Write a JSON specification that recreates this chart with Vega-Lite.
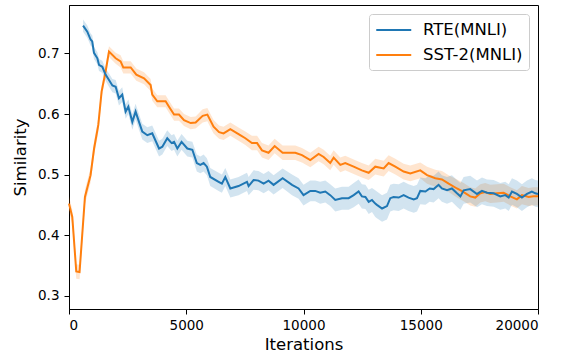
{
  "$schema": "https://vega.github.io/schema/vega-lite/v6.json",
  "width": 469,
  "height": 304,
  "autosize": {"type": "none"},
  "padding": {"left": 69, "top": 5, "right": 28, "bottom": 47},
  "background": "white",
  "config": {
    "font": "DejaVu Sans",
    "view": {"stroke": "#000000", "strokeWidth": 1},
    "axis": {
      "grid": false,
      "domainColor": "#000000",
      "tickColor": "#000000",
      "labelColor": "#000000",
      "titleColor": "#000000",
      "labelFont": "DejaVu Sans",
      "titleFont": "DejaVu Sans",
      "labelFontSize": 13.5,
      "titleFontSize": 16.5,
      "titleFontWeight": "normal",
      "tickSize": 5,
      "labelPadding": 4
    },
    "legend": {
      "orient": "top-right",
      "offset": 9,
      "symbolType": "M-1,0H3",
      "symbolSize": 306,
      "symbolStrokeWidth": 2,
      "labelFontSize": 16.5,
      "labelFont": "DejaVu Sans",
      "labelColor": "#000000",
      "labelOffset": 28,
      "rowPadding": 6,
      "padding": 6,
      "strokeColor": "#cccccc",
      "fillColor": "#ffffff",
      "cornerRadius": 3
    }
  },
  "data": {"values": [
    {"s":"SST-2(MNLI)","x":0,"y":0.452,"lo":0.440,"hi":0.464},
    {"s":"SST-2(MNLI)","x":140,"y":0.430,"lo":0.418,"hi":0.442},
    {"s":"SST-2(MNLI)","x":310,"y":0.340,"lo":0.328,"hi":0.352},
    {"s":"SST-2(MNLI)","x":450,"y":0.339,"lo":0.327,"hi":0.351},
    {"s":"SST-2(MNLI)","x":680,"y":0.463,"lo":0.451,"hi":0.475},
    {"s":"SST-2(MNLI)","x":920,"y":0.499,"lo":0.487,"hi":0.511},
    {"s":"SST-2(MNLI)","x":1070,"y":0.543,"lo":0.531,"hi":0.555},
    {"s":"SST-2(MNLI)","x":1250,"y":0.582,"lo":0.570,"hi":0.594},
    {"s":"SST-2(MNLI)","x":1390,"y":0.637,"lo":0.627,"hi":0.647},
    {"s":"SST-2(MNLI)","x":1560,"y":0.670,"lo":0.660,"hi":0.680},
    {"s":"SST-2(MNLI)","x":1705,"y":0.703,"lo":0.694,"hi":0.712},
    {"s":"SST-2(MNLI)","x":1990,"y":0.692,"lo":0.683,"hi":0.701},
    {"s":"SST-2(MNLI)","x":2200,"y":0.687,"lo":0.677,"hi":0.697},
    {"s":"SST-2(MNLI)","x":2315,"y":0.677,"lo":0.667,"hi":0.687},
    {"s":"SST-2(MNLI)","x":2630,"y":0.677,"lo":0.667,"hi":0.687},
    {"s":"SST-2(MNLI)","x":2870,"y":0.665,"lo":0.655,"hi":0.675},
    {"s":"SST-2(MNLI)","x":3200,"y":0.659,"lo":0.649,"hi":0.669},
    {"s":"SST-2(MNLI)","x":3480,"y":0.648,"lo":0.638,"hi":0.658},
    {"s":"SST-2(MNLI)","x":3550,"y":0.632,"lo":0.622,"hi":0.642},
    {"s":"SST-2(MNLI)","x":3765,"y":0.621,"lo":0.611,"hi":0.631},
    {"s":"SST-2(MNLI)","x":4120,"y":0.621,"lo":0.611,"hi":0.631},
    {"s":"SST-2(MNLI)","x":4265,"y":0.612,"lo":0.602,"hi":0.622},
    {"s":"SST-2(MNLI)","x":4480,"y":0.599,"lo":0.589,"hi":0.609},
    {"s":"SST-2(MNLI)","x":4690,"y":0.599,"lo":0.589,"hi":0.609},
    {"s":"SST-2(MNLI)","x":4905,"y":0.590,"lo":0.580,"hi":0.600},
    {"s":"SST-2(MNLI)","x":5190,"y":0.585,"lo":0.575,"hi":0.595},
    {"s":"SST-2(MNLI)","x":5400,"y":0.586,"lo":0.576,"hi":0.596},
    {"s":"SST-2(MNLI)","x":5700,"y":0.597,"lo":0.586,"hi":0.608},
    {"s":"SST-2(MNLI)","x":5900,"y":0.599,"lo":0.588,"hi":0.610},
    {"s":"SST-2(MNLI)","x":6165,"y":0.579,"lo":0.568,"hi":0.590},
    {"s":"SST-2(MNLI)","x":6400,"y":0.570,"lo":0.559,"hi":0.581},
    {"s":"SST-2(MNLI)","x":6590,"y":0.568,"lo":0.557,"hi":0.579},
    {"s":"SST-2(MNLI)","x":6880,"y":0.575,"lo":0.564,"hi":0.586},
    {"s":"SST-2(MNLI)","x":7300,"y":0.565,"lo":0.554,"hi":0.576},
    {"s":"SST-2(MNLI)","x":7520,"y":0.560,"lo":0.549,"hi":0.571},
    {"s":"SST-2(MNLI)","x":7800,"y":0.552,"lo":0.540,"hi":0.564},
    {"s":"SST-2(MNLI)","x":8020,"y":0.552,"lo":0.540,"hi":0.564},
    {"s":"SST-2(MNLI)","x":8230,"y":0.540,"lo":0.528,"hi":0.552},
    {"s":"SST-2(MNLI)","x":8510,"y":0.536,"lo":0.524,"hi":0.548},
    {"s":"SST-2(MNLI)","x":8770,"y":0.547,"lo":0.535,"hi":0.559},
    {"s":"SST-2(MNLI)","x":9110,"y":0.536,"lo":0.524,"hi":0.548},
    {"s":"SST-2(MNLI)","x":9650,"y":0.536,"lo":0.524,"hi":0.548},
    {"s":"SST-2(MNLI)","x":9935,"y":0.532,"lo":0.520,"hi":0.544},
    {"s":"SST-2(MNLI)","x":10290,"y":0.524,"lo":0.512,"hi":0.536},
    {"s":"SST-2(MNLI)","x":10645,"y":0.534,"lo":0.522,"hi":0.546},
    {"s":"SST-2(MNLI)","x":10860,"y":0.529,"lo":0.517,"hi":0.541},
    {"s":"SST-2(MNLI)","x":11140,"y":0.519,"lo":0.507,"hi":0.531},
    {"s":"SST-2(MNLI)","x":11285,"y":0.528,"lo":0.516,"hi":0.540},
    {"s":"SST-2(MNLI)","x":11570,"y":0.516,"lo":0.504,"hi":0.528},
    {"s":"SST-2(MNLI)","x":11780,"y":0.519,"lo":0.507,"hi":0.531},
    {"s":"SST-2(MNLI)","x":12140,"y":0.513,"lo":0.501,"hi":0.525},
    {"s":"SST-2(MNLI)","x":12490,"y":0.507,"lo":0.495,"hi":0.519},
    {"s":"SST-2(MNLI)","x":12780,"y":0.503,"lo":0.491,"hi":0.515},
    {"s":"SST-2(MNLI)","x":13060,"y":0.513,"lo":0.500,"hi":0.526},
    {"s":"SST-2(MNLI)","x":13420,"y":0.510,"lo":0.497,"hi":0.523},
    {"s":"SST-2(MNLI)","x":13630,"y":0.519,"lo":0.506,"hi":0.532},
    {"s":"SST-2(MNLI)","x":13915,"y":0.513,"lo":0.500,"hi":0.526},
    {"s":"SST-2(MNLI)","x":14270,"y":0.505,"lo":0.492,"hi":0.518},
    {"s":"SST-2(MNLI)","x":14555,"y":0.502,"lo":0.489,"hi":0.515},
    {"s":"SST-2(MNLI)","x":14980,"y":0.507,"lo":0.494,"hi":0.520},
    {"s":"SST-2(MNLI)","x":15270,"y":0.499,"lo":0.485,"hi":0.513},
    {"s":"SST-2(MNLI)","x":15620,"y":0.494,"lo":0.480,"hi":0.508},
    {"s":"SST-2(MNLI)","x":15905,"y":0.492,"lo":0.478,"hi":0.506},
    {"s":"SST-2(MNLI)","x":16190,"y":0.485,"lo":0.471,"hi":0.499},
    {"s":"SST-2(MNLI)","x":16545,"y":0.477,"lo":0.462,"hi":0.492},
    {"s":"SST-2(MNLI)","x":16830,"y":0.471,"lo":0.456,"hi":0.486},
    {"s":"SST-2(MNLI)","x":17110,"y":0.464,"lo":0.449,"hi":0.479},
    {"s":"SST-2(MNLI)","x":17325,"y":0.462,"lo":0.447,"hi":0.477},
    {"s":"SST-2(MNLI)","x":17540,"y":0.469,"lo":0.454,"hi":0.484},
    {"s":"SST-2(MNLI)","x":17750,"y":0.471,"lo":0.456,"hi":0.486},
    {"s":"SST-2(MNLI)","x":17965,"y":0.468,"lo":0.453,"hi":0.483},
    {"s":"SST-2(MNLI)","x":18250,"y":0.469,"lo":0.454,"hi":0.484},
    {"s":"SST-2(MNLI)","x":18535,"y":0.470,"lo":0.455,"hi":0.485},
    {"s":"SST-2(MNLI)","x":18820,"y":0.464,"lo":0.449,"hi":0.479},
    {"s":"SST-2(MNLI)","x":19100,"y":0.459,"lo":0.444,"hi":0.474},
    {"s":"SST-2(MNLI)","x":19315,"y":0.466,"lo":0.451,"hi":0.481},
    {"s":"SST-2(MNLI)","x":19600,"y":0.463,"lo":0.448,"hi":0.478},
    {"s":"SST-2(MNLI)","x":19810,"y":0.464,"lo":0.449,"hi":0.479},
    {"s":"SST-2(MNLI)","x":20000,"y":0.464,"lo":0.449,"hi":0.479},
    {"s":"RTE(MNLI)","x":600,"y":0.746,"lo":0.736,"hi":0.756},
    {"s":"RTE(MNLI)","x":780,"y":0.736,"lo":0.726,"hi":0.746},
    {"s":"RTE(MNLI)","x":920,"y":0.723,"lo":0.713,"hi":0.733},
    {"s":"RTE(MNLI)","x":990,"y":0.720,"lo":0.710,"hi":0.730},
    {"s":"RTE(MNLI)","x":1065,"y":0.701,"lo":0.691,"hi":0.711},
    {"s":"RTE(MNLI)","x":1210,"y":0.692,"lo":0.682,"hi":0.702},
    {"s":"RTE(MNLI)","x":1280,"y":0.681,"lo":0.671,"hi":0.691},
    {"s":"RTE(MNLI)","x":1420,"y":0.678,"lo":0.668,"hi":0.688},
    {"s":"RTE(MNLI)","x":1560,"y":0.665,"lo":0.655,"hi":0.675},
    {"s":"RTE(MNLI)","x":1705,"y":0.656,"lo":0.645,"hi":0.667},
    {"s":"RTE(MNLI)","x":1850,"y":0.647,"lo":0.636,"hi":0.658},
    {"s":"RTE(MNLI)","x":1990,"y":0.645,"lo":0.634,"hi":0.656},
    {"s":"RTE(MNLI)","x":2130,"y":0.626,"lo":0.614,"hi":0.638},
    {"s":"RTE(MNLI)","x":2270,"y":0.632,"lo":0.620,"hi":0.644},
    {"s":"RTE(MNLI)","x":2415,"y":0.604,"lo":0.592,"hi":0.616},
    {"s":"RTE(MNLI)","x":2530,"y":0.612,"lo":0.600,"hi":0.624},
    {"s":"RTE(MNLI)","x":2700,"y":0.587,"lo":0.574,"hi":0.600},
    {"s":"RTE(MNLI)","x":2840,"y":0.604,"lo":0.591,"hi":0.617},
    {"s":"RTE(MNLI)","x":2985,"y":0.587,"lo":0.574,"hi":0.600},
    {"s":"RTE(MNLI)","x":3125,"y":0.571,"lo":0.558,"hi":0.584},
    {"s":"RTE(MNLI)","x":3340,"y":0.565,"lo":0.552,"hi":0.578},
    {"s":"RTE(MNLI)","x":3550,"y":0.568,"lo":0.555,"hi":0.581},
    {"s":"RTE(MNLI)","x":3840,"y":0.543,"lo":0.530,"hi":0.556},
    {"s":"RTE(MNLI)","x":3980,"y":0.546,"lo":0.533,"hi":0.559},
    {"s":"RTE(MNLI)","x":4190,"y":0.560,"lo":0.547,"hi":0.573},
    {"s":"RTE(MNLI)","x":4375,"y":0.552,"lo":0.539,"hi":0.565},
    {"s":"RTE(MNLI)","x":4480,"y":0.554,"lo":0.541,"hi":0.567},
    {"s":"RTE(MNLI)","x":4620,"y":0.543,"lo":0.530,"hi":0.556},
    {"s":"RTE(MNLI)","x":4800,"y":0.554,"lo":0.541,"hi":0.567},
    {"s":"RTE(MNLI)","x":5045,"y":0.543,"lo":0.530,"hi":0.556},
    {"s":"RTE(MNLI)","x":5260,"y":0.541,"lo":0.528,"hi":0.554},
    {"s":"RTE(MNLI)","x":5450,"y":0.519,"lo":0.505,"hi":0.533},
    {"s":"RTE(MNLI)","x":5600,"y":0.516,"lo":0.502,"hi":0.530},
    {"s":"RTE(MNLI)","x":5740,"y":0.519,"lo":0.505,"hi":0.533},
    {"s":"RTE(MNLI)","x":5880,"y":0.513,"lo":0.499,"hi":0.527},
    {"s":"RTE(MNLI)","x":6025,"y":0.496,"lo":0.481,"hi":0.511},
    {"s":"RTE(MNLI)","x":6380,"y":0.488,"lo":0.473,"hi":0.503},
    {"s":"RTE(MNLI)","x":6520,"y":0.485,"lo":0.470,"hi":0.500},
    {"s":"RTE(MNLI)","x":6665,"y":0.496,"lo":0.481,"hi":0.511},
    {"s":"RTE(MNLI)","x":6880,"y":0.477,"lo":0.462,"hi":0.492},
    {"s":"RTE(MNLI)","x":7230,"y":0.481,"lo":0.466,"hi":0.496},
    {"s":"RTE(MNLI)","x":7590,"y":0.488,"lo":0.473,"hi":0.503},
    {"s":"RTE(MNLI)","x":7660,"y":0.481,"lo":0.466,"hi":0.496},
    {"s":"RTE(MNLI)","x":7870,"y":0.491,"lo":0.475,"hi":0.507},
    {"s":"RTE(MNLI)","x":8080,"y":0.490,"lo":0.474,"hi":0.506},
    {"s":"RTE(MNLI)","x":8300,"y":0.485,"lo":0.469,"hi":0.501},
    {"s":"RTE(MNLI)","x":8510,"y":0.490,"lo":0.474,"hi":0.506},
    {"s":"RTE(MNLI)","x":8725,"y":0.483,"lo":0.467,"hi":0.499},
    {"s":"RTE(MNLI)","x":9110,"y":0.494,"lo":0.478,"hi":0.510},
    {"s":"RTE(MNLI)","x":9510,"y":0.483,"lo":0.466,"hi":0.500},
    {"s":"RTE(MNLI)","x":9790,"y":0.477,"lo":0.460,"hi":0.494},
    {"s":"RTE(MNLI)","x":10000,"y":0.466,"lo":0.449,"hi":0.483},
    {"s":"RTE(MNLI)","x":10290,"y":0.473,"lo":0.456,"hi":0.490},
    {"s":"RTE(MNLI)","x":10500,"y":0.473,"lo":0.456,"hi":0.490},
    {"s":"RTE(MNLI)","x":10710,"y":0.470,"lo":0.452,"hi":0.488},
    {"s":"RTE(MNLI)","x":10930,"y":0.472,"lo":0.454,"hi":0.490},
    {"s":"RTE(MNLI)","x":11140,"y":0.466,"lo":0.448,"hi":0.484},
    {"s":"RTE(MNLI)","x":11355,"y":0.458,"lo":0.439,"hi":0.477},
    {"s":"RTE(MNLI)","x":11640,"y":0.461,"lo":0.442,"hi":0.480},
    {"s":"RTE(MNLI)","x":11925,"y":0.461,"lo":0.442,"hi":0.480},
    {"s":"RTE(MNLI)","x":12140,"y":0.466,"lo":0.446,"hi":0.486},
    {"s":"RTE(MNLI)","x":12350,"y":0.472,"lo":0.452,"hi":0.492},
    {"s":"RTE(MNLI)","x":12490,"y":0.464,"lo":0.444,"hi":0.484},
    {"s":"RTE(MNLI)","x":12640,"y":0.463,"lo":0.443,"hi":0.483},
    {"s":"RTE(MNLI)","x":12780,"y":0.455,"lo":0.435,"hi":0.475},
    {"s":"RTE(MNLI)","x":12920,"y":0.458,"lo":0.438,"hi":0.478},
    {"s":"RTE(MNLI)","x":13060,"y":0.452,"lo":0.430,"hi":0.474},
    {"s":"RTE(MNLI)","x":13130,"y":0.450,"lo":0.428,"hi":0.472},
    {"s":"RTE(MNLI)","x":13350,"y":0.444,"lo":0.422,"hi":0.466},
    {"s":"RTE(MNLI)","x":13560,"y":0.448,"lo":0.426,"hi":0.470},
    {"s":"RTE(MNLI)","x":13700,"y":0.461,"lo":0.439,"hi":0.483},
    {"s":"RTE(MNLI)","x":13840,"y":0.463,"lo":0.441,"hi":0.485},
    {"s":"RTE(MNLI)","x":14060,"y":0.462,"lo":0.440,"hi":0.484},
    {"s":"RTE(MNLI)","x":14270,"y":0.466,"lo":0.444,"hi":0.488},
    {"s":"RTE(MNLI)","x":14480,"y":0.462,"lo":0.440,"hi":0.484},
    {"s":"RTE(MNLI)","x":14700,"y":0.459,"lo":0.437,"hi":0.481},
    {"s":"RTE(MNLI)","x":14840,"y":0.461,"lo":0.439,"hi":0.483},
    {"s":"RTE(MNLI)","x":14980,"y":0.473,"lo":0.451,"hi":0.495},
    {"s":"RTE(MNLI)","x":15200,"y":0.472,"lo":0.450,"hi":0.494},
    {"s":"RTE(MNLI)","x":15380,"y":0.477,"lo":0.455,"hi":0.499},
    {"s":"RTE(MNLI)","x":15550,"y":0.476,"lo":0.454,"hi":0.498},
    {"s":"RTE(MNLI)","x":15760,"y":0.483,"lo":0.461,"hi":0.505},
    {"s":"RTE(MNLI)","x":15900,"y":0.477,"lo":0.455,"hi":0.499},
    {"s":"RTE(MNLI)","x":16120,"y":0.474,"lo":0.452,"hi":0.496},
    {"s":"RTE(MNLI)","x":16330,"y":0.477,"lo":0.455,"hi":0.499},
    {"s":"RTE(MNLI)","x":16545,"y":0.469,"lo":0.447,"hi":0.491},
    {"s":"RTE(MNLI)","x":16690,"y":0.464,"lo":0.442,"hi":0.486},
    {"s":"RTE(MNLI)","x":16830,"y":0.474,"lo":0.452,"hi":0.496},
    {"s":"RTE(MNLI)","x":17110,"y":0.476,"lo":0.454,"hi":0.498},
    {"s":"RTE(MNLI)","x":17400,"y":0.468,"lo":0.446,"hi":0.490},
    {"s":"RTE(MNLI)","x":17610,"y":0.473,"lo":0.451,"hi":0.495},
    {"s":"RTE(MNLI)","x":17825,"y":0.470,"lo":0.448,"hi":0.492},
    {"s":"RTE(MNLI)","x":18110,"y":0.469,"lo":0.447,"hi":0.491},
    {"s":"RTE(MNLI)","x":18390,"y":0.464,"lo":0.442,"hi":0.486},
    {"s":"RTE(MNLI)","x":18605,"y":0.466,"lo":0.444,"hi":0.488},
    {"s":"RTE(MNLI)","x":18750,"y":0.462,"lo":0.440,"hi":0.484},
    {"s":"RTE(MNLI)","x":18890,"y":0.472,"lo":0.450,"hi":0.494},
    {"s":"RTE(MNLI)","x":19100,"y":0.468,"lo":0.446,"hi":0.490},
    {"s":"RTE(MNLI)","x":19315,"y":0.462,"lo":0.440,"hi":0.484},
    {"s":"RTE(MNLI)","x":19530,"y":0.468,"lo":0.446,"hi":0.490},
    {"s":"RTE(MNLI)","x":19740,"y":0.472,"lo":0.450,"hi":0.494},
    {"s":"RTE(MNLI)","x":19885,"y":0.469,"lo":0.447,"hi":0.491},
    {"s":"RTE(MNLI)","x":20000,"y":0.468,"lo":0.446,"hi":0.490}
  ]},
  "encoding": {
    "x": {"field": "x", "type": "quantitative",
      "scale": {"domain": [0, 20000], "nice": false, "zero": false},
      "axis": {"title": "Iterations", "values": [0, 5000, 10000, 15000, 20000], "format": "d", "titlePadding": 5}},
    "color": {"field": "s", "type": "nominal", "title": null,
      "scale": {"domain": ["RTE(MNLI)", "SST-2(MNLI)"], "range": ["#1f77b4", "#ff7f0e"]}}
  },
  "layer": [
    {
      "mark": {"type": "area", "fillOpacity": 0.2, "opacity": 1},
      "encoding": {
        "y": {"field": "lo", "type": "quantitative",
          "scale": {"domain": [0.278, 0.78], "nice": false, "zero": false},
          "axis": {"title": "Similarity", "values": [0.3, 0.4, 0.5, 0.6, 0.7], "format": ".1f", "labelPadding": 5, "titlePadding": 9}},
        "y2": {"field": "hi"}
      }
    },
    {
      "mark": {"type": "line", "strokeWidth": 2},
      "encoding": {
        "y": {"field": "y", "type": "quantitative"}
      }
    }
  ]
}
